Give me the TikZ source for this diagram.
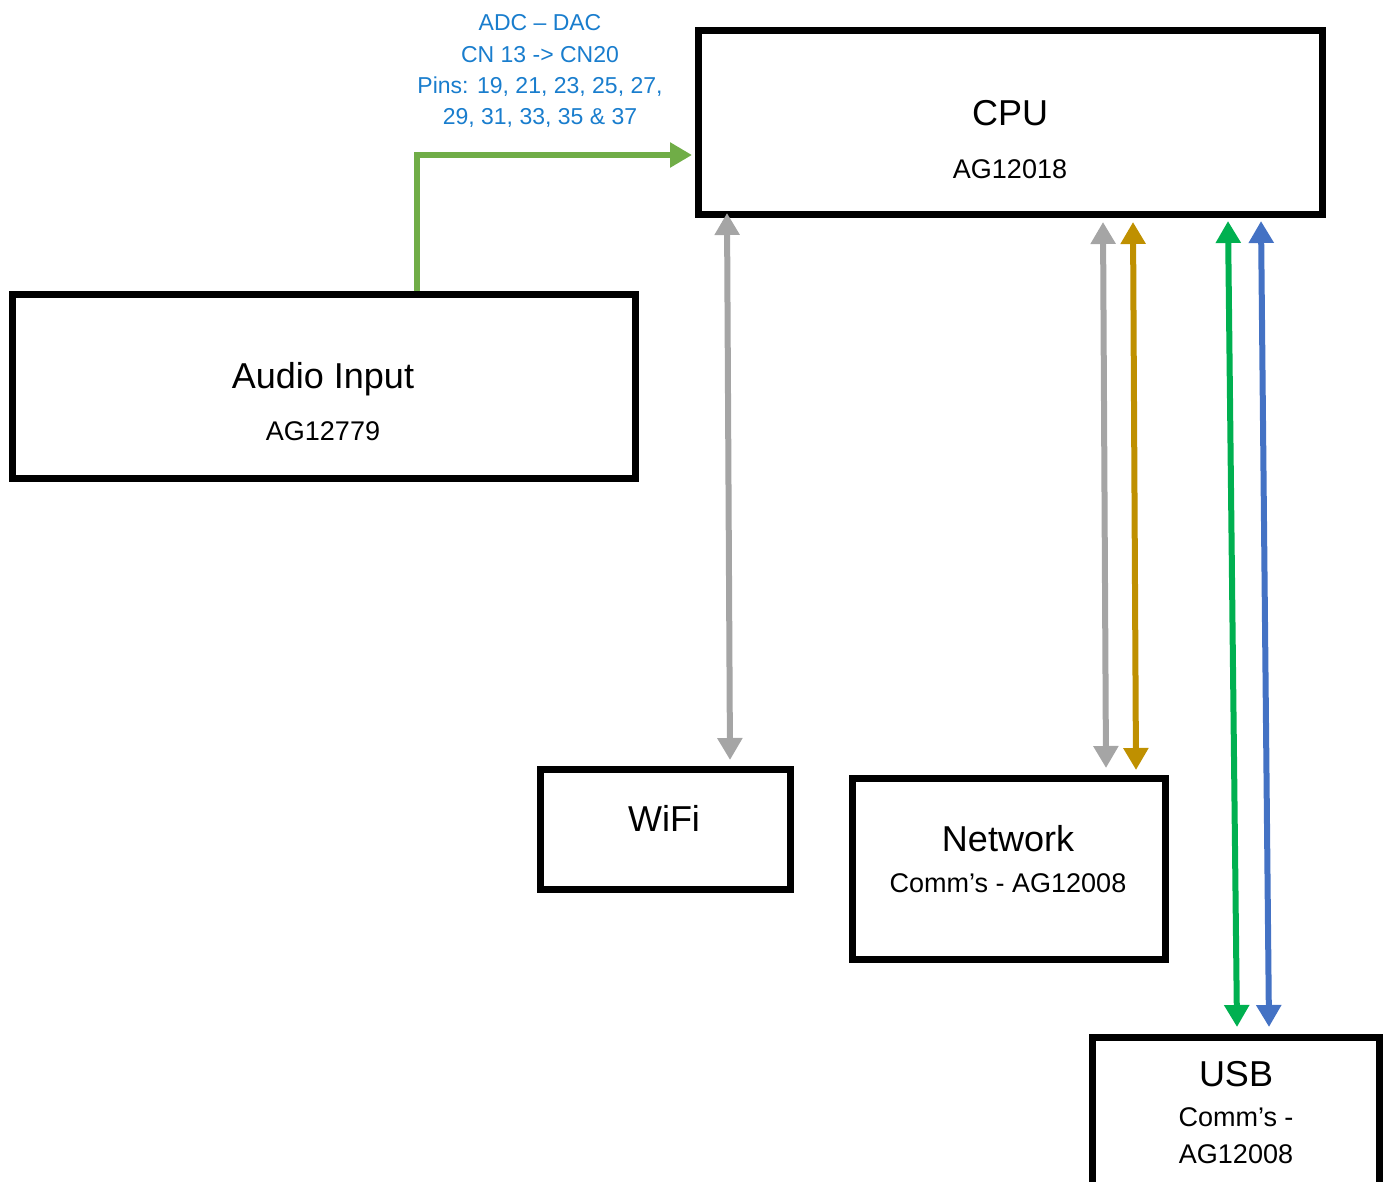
\documentclass[tikz,border=0pt]{standalone}
\usepackage{fontspec}
\setmainfont{Liberation Sans}
\usetikzlibrary{arrows.meta}
\definecolor{audiogreen}{HTML}{70AD47}
\definecolor{linkgray}{HTML}{A5A5A5}
\definecolor{linkgold}{HTML}{BF9000}
\definecolor{linkgreen}{HTML}{00B050}
\definecolor{linkblue}{HTML}{4472C4}
\definecolor{labelblue}{RGB}{25,125,205}
\begin{document}
\begin{tikzpicture}[x=1pt,y=-1pt,
  box/.style={draw=black,line width=7pt,inner sep=0pt,outer sep=0pt,anchor=north west},
  big/.style={font=\fontsize{36}{40}\selectfont,anchor=base,inner sep=0pt},
  small/.style={font=\fontsize{27}{30}\selectfont,anchor=base,inner sep=0pt},
  lbl/.style={font=\fontsize{23}{26}\selectfont,anchor=base,inner sep=0pt,text=labelblue},
  tip/.tip={Triangle[length=22pt,width=24pt]},
  conn/.style={line width=6pt,tip-tip}]
\useasboundingbox (0,0) rectangle (1391,1181);
% boxes
\node[box,minimum width=624pt,minimum height=184pt] (cpu) at (698,30) {};
\node[box,minimum width=623pt,minimum height=184pt] (audio) at (12,294) {};
\node[box,minimum width=250pt,minimum height=120pt] (wifi) at (540,769) {};
\node[box,minimum width=313pt,minimum height=181pt] (net) at (852,778) {};
\node[box,minimum width=287pt,minimum height=153pt] (usb) at (1092,1037) {};
% texts
\node[big] (cputitle) at (1010,125) {CPU};
\node[small] (cpusub) at (1010,178) {AG12018};
\node[big] (audiotitle) at (323,388) {Audio Input};
\node[small] (audiosub) at (323,440) {AG12779};
\node[big] (wifititle) at (664,831) {WiFi};
\node[big] (nettitle) at (1008,851) {Network};
\node[small] (netsub) at (1008,892) {Comm’s - AG12008};
\node[big] (usbtitle) at (1236,1086) {USB};
\node[small] (usbsub1) at (1236,1126) {Comm’s -};
\node[small] (usbsub2) at (1236,1163) {AG12008};
\node[lbl] (l1) at (540,30) {ADC – DAC};
\node[lbl] (l2) at (540,62) {CN 13 -> CN20};
\node[lbl] (l3) at (540,93) {Pins: 19, 21, 23, 25, 27,};
\node[lbl] (l4) at (540,124) {29, 31, 33, 35 \& 37};
% connector end points
\coordinate (a1) at (417,291);
\coordinate (a3) at (692,155);
\coordinate (w1) at (727,213);
\coordinate (w2) at (730,760);
\coordinate (n1) at (1103,222);
\coordinate (n2) at (1106,768);
\coordinate (g1) at (1133,222);
\coordinate (g2) at (1136,770);
\coordinate (u1) at (1228,221);
\coordinate (u2) at (1237,1027);
\coordinate (b1) at (1261,221);
\coordinate (b2) at (1269,1027);
% connectors
\draw[line width=6pt,audiogreen,-tip] (a1) |- (a3);
\draw[conn,linkgray] (w1) -- (w2);
\draw[conn,linkgray] (n1) -- (n2);
\draw[conn,linkgold] (g1) -- (g2);
\draw[conn,linkgreen] (u1) -- (u2);
\draw[conn,linkblue] (b1) -- (b2);
\end{tikzpicture}
\end{document}
